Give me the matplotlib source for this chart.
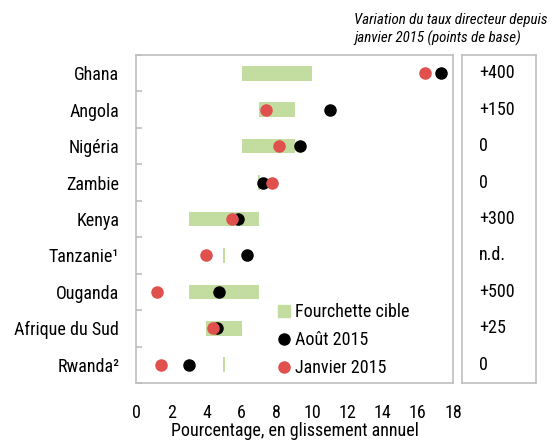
import numpy as np
import matplotlib
matplotlib.use("Agg")
import matplotlib.pyplot as plt
from matplotlib import font_manager
from matplotlib.lines import Line2D

# donnees
pays = ["Ghana", "Angola", "Nigéria", "Zambie", "Kenya", "Tanzanie¹",
        "Ouganda", "Afrique du Sud", "Rwanda²"]
cible_bas = [6, 7, 6, 7, 3, 5, 3, 4, 5]
cible_haut = [10, 9, 9, 7, 7, 5, 7, 6, 5]
aout_2015 = [17.3, 11.0, 9.3, 7.2, 5.8, 6.3, 4.7, 4.6, 3.0]
janvier_2015 = [16.4, 7.4, 8.1, 7.7, 5.45, 4.0, 1.2, 4.4, 1.4]
variation = ["+400", "+150", "0", "0", "+300", "n.d.", "+500", "+25", "0"]
xticks = [0, 2, 4, 6, 8, 10, 12, 14, 16, 18]

# police etroite si disponible, sinon Liberation Sans plus petite
noms = {f.name for f in font_manager.fontManager.ttflist}
police, fs, fs_it = "Liberation Sans", 11, 9.5
for nom in ["Liberation Sans Narrow", "Roboto Condensed", "DejaVu Sans Condensed",
            "Open Sans Condensed"]:
    if nom in noms:
        police, fs, fs_it = nom, 13, 10.8
        break
plt.rcParams["font.family"] = [police, "DejaVu Sans"]

vert = "#C3DC9F"
rouge = "#E0504D"
gris = "#BFBFBF"

fig = plt.figure(figsize=(5.52, 4.43), dpi=100)
ax = fig.add_axes([136/552, 1-383/443, (453-136)/552, (383-55)/443])

y = np.arange(len(pays))
bas = np.array(cible_bas, dtype=float)
haut = np.array(cible_haut, dtype=float)
larg = haut - bas
# fourchette reduite a un point : petit trait
gauche = np.where(larg == 0, bas - 0.05, bas)
larg = np.where(larg == 0, 0.1, larg)
ax.barh(y, larg, left=gauche, height=0.4, color=vert, zorder=1)
ax.plot(aout_2015, y, "o", color="black", ms=8, zorder=2)
ax.plot(janvier_2015, y, "o", color=rouge, ms=8, zorder=3)

ax.set_xlim(0, 18)
ax.set_ylim(len(pays) - 0.5, -0.5)
ax.set_xticks(xticks)
ax.set_xticklabels([str(t) for t in xticks], fontsize=fs)
ax.tick_params(axis="x", length=0, pad=15)
ax.set_yticks(y)
ax.set_yticklabels(pays, fontsize=fs)
ax.tick_params(axis="y", which="major", length=0, pad=12)
ax.set_yticks(np.arange(len(pays) + 1) - 0.5, minor=True)
ax.tick_params(axis="y", which="minor", direction="in", length=4, color=gris, width=1.2)
for s in ax.spines.values():
    s.set_color(gris)
    s.set_linewidth(1.2)

# legende
poignees = [Line2D([], [], ls="", marker="s", ms=9, color=vert),
            Line2D([], [], ls="", marker="o", ms=8, color="black"),
            Line2D([], [], ls="", marker="o", ms=8, color=rouge)]
ax.legend(poignees, ["Fourchette cible", "Août 2015", "Janvier 2015"],
          loc="upper left", bbox_to_anchor=(279/552, 1-303/443),
          bbox_transform=fig.transFigure, frameon=False, fontsize=fs,
          handlelength=0.6, handletextpad=0.3, labelspacing=0.55,
          borderpad=0, borderaxespad=0)

fig.text((136+453)/2/552, 1-431/443, "Pourcentage, en glissement annuel",
         ha="center", va="center", fontsize=fs)

# encadre de droite
ax2 = fig.add_axes([462/552, 1-383/443, (536-462)/552, (383-55)/443])
ax2.set_ylim(len(pays) - 0.5, -0.5)
ax2.set_xlim(0, 1)
ax2.set_xticks([])
ax2.set_yticks([])
for s in ax2.spines.values():
    s.set_color(gris)
    s.set_linewidth(1.2)
for i, v in enumerate(variation):
    ax2.text(0.23, y[i], v, ha="left", va="center", fontsize=fs)

fig.text(354/552, 1-13/443, "Variation du taux directeur depuis\njanvier 2015 (points de base)",
         ha="left", va="top", fontsize=fs_it, style="italic", linespacing=1.3)

fig.savefig("out.png", dpi=100)
